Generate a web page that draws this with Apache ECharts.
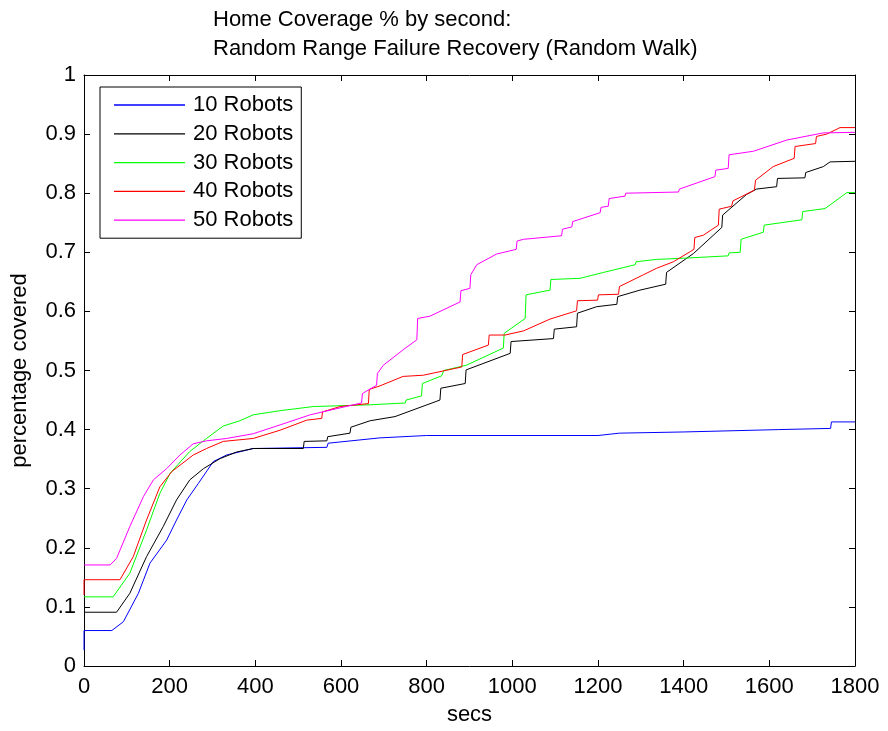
<!DOCTYPE html>
<html>
<head>
<meta charset="utf-8">
<title>Home Coverage</title>
<script src="https://cdn.jsdelivr.net/npm/echarts@6/dist/echarts.min.js"></script>
<style>
    html,body{margin:0;padding:0;background:#fff;}
    #main{width:888px;height:731px;}
</style>
</head>
<body>
<div id="main"></div>
<script>
// values, [secs, coverage]
var robots10 = [[0,0.027],[0,0.06],[65,0.06],[92,0.075],[127,0.123],[154,0.174],[193,0.213],[216,0.247],[240,0.281],[267,0.309],[302,0.346],[333,0.357],[395,0.368],[567,0.370],[570,0.377],[691,0.386],[800,0.39],[1200,0.39],[1250,0.394],[1400,0.396],[1621,0.40],[1743,0.402],[1745,0.413],[1800,0.413]]
var robots20 = [[0,0.091],[76,0.091],[107,0.123],[146,0.185],[185,0.236],[216,0.281],[247,0.315],[279,0.334],[318,0.351],[356,0.362],[395,0.368],[512,0.368],[514,0.38],[567,0.381],[569,0.388],[621,0.394],[623,0.404],[668,0.415],[726,0.422],[831,0.45],[833,0.47],[890,0.478],[892,0.501],[995,0.529],[997,0.549],[1096,0.554],[1098,0.570],[1150,0.574],[1152,0.597],[1197,0.608],[1244,0.612],[1246,0.625],[1298,0.636],[1358,0.646],[1360,0.666],[1423,0.698],[1489,0.742],[1491,0.763],[1547,0.798],[1570,0.807],[1617,0.811],[1619,0.825],[1683,0.826],[1685,0.835],[1726,0.845],[1742,0.853],[1800,0.854]]
var robots30 = [[0,0.117],[68,0.117],[107,0.157],[146,0.230],[177,0.292],[201,0.326],[247,0.363],[286,0.385],[325,0.406],[364,0.415],[395,0.425],[458,0.432],[535,0.439],[668,0.442],[750,0.445],[752,0.45],[788,0.457],[790,0.478],[835,0.491],[840,0.5],[893,0.509],[979,0.538],[981,0.563],[1030,0.588],[1032,0.628],[1088,0.636],[1090,0.654],[1158,0.656],[1213,0.666],[1287,0.679],[1289,0.684],[1337,0.688],[1400,0.69],[1504,0.694],[1506,0.699],[1532,0.70],[1534,0.722],[1586,0.734],[1588,0.746],[1676,0.755],[1678,0.769],[1730,0.774],[1781,0.801],[1800,0.801]]
var robots40 = [[0,0.12],[0,0.146],[84,0.146],[115,0.185],[146,0.247],[177,0.303],[205,0.329],[255,0.357],[286,0.368],[325,0.380],[395,0.385],[458,0.399],[520,0.416],[555,0.419],[557,0.43],[598,0.439],[664,0.444],[666,0.468],[691,0.474],[745,0.49],[792,0.492],[882,0.506],[884,0.527],[944,0.543],[946,0.56],[983,0.56],[1026,0.567],[1088,0.587],[1150,0.601],[1152,0.618],[1199,0.619],[1201,0.628],[1248,0.629],[1250,0.642],[1306,0.662],[1337,0.673],[1376,0.684],[1415,0.701],[1424,0.705],[1426,0.725],[1446,0.729],[1481,0.746],[1483,0.773],[1512,0.778],[1515,0.787],[1565,0.805],[1568,0.822],[1609,0.845],[1658,0.859],[1660,0.879],[1708,0.884],[1710,0.896],[1734,0.9],[1765,0.911],[1800,0.911]]
var robots50 = [[0,0.171],[61,0.171],[76,0.182],[107,0.236],[139,0.287],[162,0.315],[193,0.334],[224,0.357],[255,0.376],[286,0.381],[333,0.385],[395,0.393],[458,0.408],[528,0.425],[629,0.442],[648,0.445],[650,0.461],[683,0.475],[685,0.495],[699,0.509],[745,0.535],[777,0.552],[779,0.588],[808,0.592],[878,0.616],[880,0.635],[901,0.639],[903,0.662],[917,0.679],[963,0.697],[1009,0.705],[1011,0.719],[1026,0.722],[1115,0.728],[1117,0.739],[1139,0.743],[1141,0.752],[1205,0.767],[1207,0.776],[1224,0.778],[1226,0.791],[1263,0.795],[1265,0.8],[1388,0.802],[1390,0.807],[1473,0.828],[1475,0.839],[1504,0.842],[1506,0.865],[1563,0.871],[1641,0.89],[1726,0.902],[1800,0.903]]

var seriesNames = ['10 Robots','20 Robots','30 Robots','40 Robots','50 Robots']
var seriesColors = ['#0000ff','#000000','#00ff00','#ff0000','#ff00ff']
var seriesData = [robots10,robots20,robots30,robots40,robots50]

var xTicks = {min:0,max:1800,interval:200}
var yTicks = {min:0,max:1,interval:0.1}

var FONT = '"Liberation Sans", Arial, sans-serif'

var chart = echarts.init(document.getElementById('main'), null, {renderer:'canvas'})

// matlab style box: ticks inside on all four sides
function axisBase(ticks, extra){
    var a = {
        type:'value',
        min:ticks.min,
        max:ticks.max,
        interval:ticks.interval,
        splitLine:{show:false},
        axisLine:{show:true,onZero:false,lineStyle:{color:'#000',width:1}},
        axisTick:{show:true,inside:true,length:6,lineStyle:{color:'#000'}},
        axisLabel:{show:false}
    }
    for (var k in extra) a[k] = extra[k]
    return a
}

var option = {
    backgroundColor:'#fff',
    animation:false,
    title:{
        text:'Home Coverage % by second:\nRandom Range Failure Recovery (Random Walk)',
        left:208,
        top:0,
        textAlign:'left',
        textStyle:{fontFamily:FONT,fontSize:22,fontWeight:'normal',color:'#000',lineHeight:29}
    },
    grid:{left:84,right:33,top:75,bottom:65,containLabel:false},
    legend:{
        orient:'vertical',
        left:100,
        top:87,
        icon:'rect',   // plain line, no marker
        itemWidth:71,
        itemHeight:1.3,
        itemGap:4.8,
        padding:[6,8,6,14],
        backgroundColor:'#fff',
        borderColor:'#000',
        borderWidth:1,
        borderRadius:0,
        textStyle:{fontFamily:FONT,fontSize:22,color:'#000',lineHeight:24,padding:[0,0,0,3]},
        data:seriesNames
    },
    xAxis:[
        axisBase(xTicks,{
            position:'bottom',
            name:'secs',
            nameLocation:'middle',
            nameGap:38,
            nameTextStyle:{fontFamily:FONT,fontSize:22,color:'#000'},
            axisLabel:{show:true,fontFamily:FONT,fontSize:22,color:'#000',margin:10,
                formatter:function(v){return String(v)}}
        }),
        axisBase(xTicks,{position:'top'})
    ],
    yAxis:[
        axisBase(yTicks,{
            position:'left',
            name:'percentage covered',
            nameLocation:'middle',
            nameGap:53,
            nameTextStyle:{fontFamily:FONT,fontSize:22,color:'#000'},
            axisLabel:{show:true,fontFamily:FONT,fontSize:22,color:'#000',margin:8,
                formatter:function(v){return String(Math.round(v*10)/10)}}
        }),
        axisBase(yTicks,{position:'right'})
    ],
    series:seriesData.map(function(d,i){
        return {
            name:seriesNames[i],
            type:'line',
            xAxisIndex:0,
            yAxisIndex:0,
            data:d,
            showSymbol:false,
            symbol:'none',
            lineStyle:{color:seriesColors[i],width:1},
            itemStyle:{color:seriesColors[i]},
            z:2+i
        }
    })
}

chart.setOption(option)
</script>
</body>
</html>
